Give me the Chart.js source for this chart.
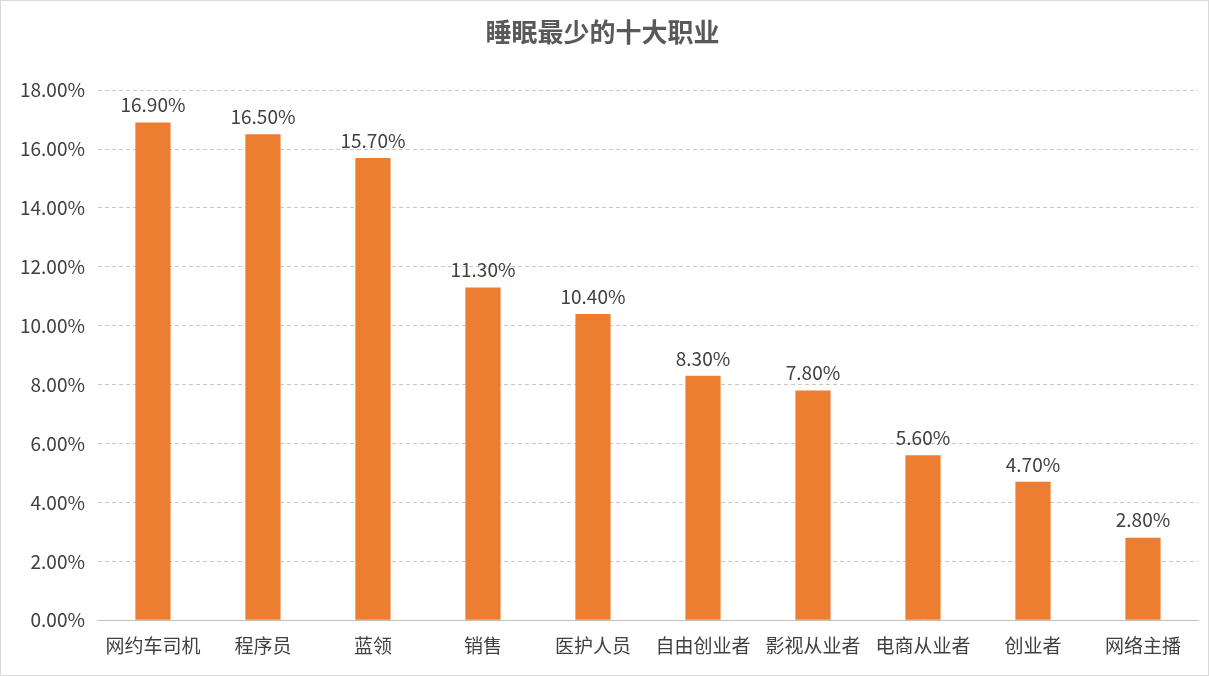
<!DOCTYPE html>
<html><head><meta charset="utf-8">
<script src="https://cdn.jsdelivr.net/npm/chart.js@4/dist/chart.umd.min.js"></script>
<style>html,body{margin:0;padding:0;background:#fff}#wrap{width:1207px;height:674px;border:1px solid #d9d9d9;position:relative}</style>
</head><body><div id="wrap"><canvas id="c"></canvas></div>
<script>
const categories = ["网约车司机","程序员","蓝领","销售","医护人员","自由创业者","影视从业者","电商从业者","创业者","网络主播"];
const values = [16.9,16.5,15.7,11.3,10.4,8.3,7.8,5.6,4.7,2.8];
const tickValues = [0,2,4,6,8,10,12,14,16,18];
const FONT = "'Noto Sans CJK SC', 'Noto Sans', sans-serif";
const labelPlugin = {
  id:'labels',
  afterDatasetsDraw(chart){
    const ctx = chart.ctx, meta = chart.getDatasetMeta(0);
    ctx.save(); ctx.fillStyle='#404040'; ctx.font='19px '+FONT;
    ctx.textAlign='center'; ctx.textBaseline='bottom';
    meta.data.forEach((b,i)=>ctx.fillText(values[i].toFixed(2)+'%', b.x, b.y-8));
    ctx.restore();
  }
};
new Chart(document.getElementById('c'), {
  type:'bar',
  data:{labels:categories, datasets:[{data:values, backgroundColor:'#ed7d31', barPercentage:0.32, categoryPercentage:1}]},
  options:{
    responsive:true, maintainAspectRatio:false, animation:false,
    layout:{padding:{left:6,right:10,top:0,bottom:12}},
    plugins:{legend:{display:false}, tooltip:{enabled:false},
      title:{display:true, text:'睡眠最少的十大职业', color:'#595959', font:{family:FONT, size:26, weight:'bold'}, padding:{top:16,bottom:42}}},
    scales:{
      x:{grid:{display:false}, border:{display:true,color:'#bfbfbf'},
         ticks:{color:'#404040', padding:6, font:{family:FONT,size:19}, maxRotation:0, autoSkip:false}},
      y:{min:0,max:18, afterBuildTicks(s){s.ticks=tickValues.map(v=>({value:v}));},
         grid:{color:'#c8c8c8', drawTicks:false}, border:{display:false, dash:[4,3]},
         ticks:{color:'#404040', padding:13, font:{family:FONT,size:19}, callback:v=>v.toFixed(2)+'%'}}
    }
  },
  plugins:[labelPlugin]
});
</script></body></html>
